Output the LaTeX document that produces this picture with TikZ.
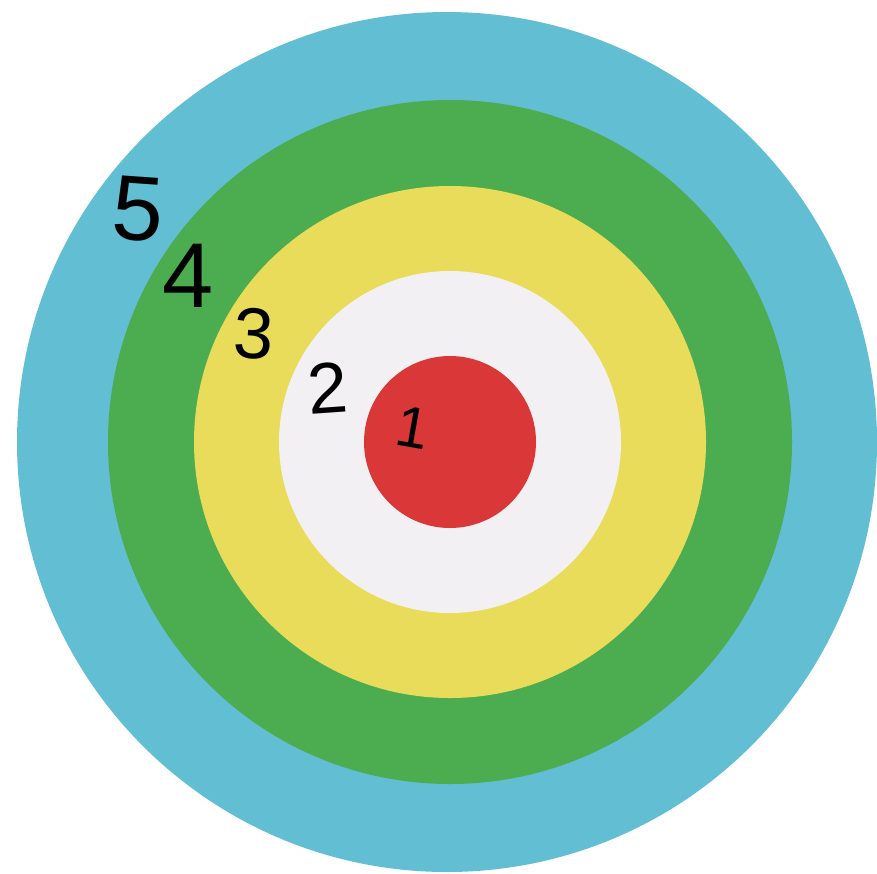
\documentclass[tikz,border=0pt]{standalone}
\usepackage{fontspec}
\setsansfont{Liberation Sans}
\definecolor{ringblue}{RGB}{98,190,210}
\definecolor{ringgreen}{RGB}{76,172,80}
\definecolor{ringyellow}{RGB}{232,220,90}
\definecolor{ringwhite}{RGB}{242,240,242}
\definecolor{ringred}{RGB}{218,56,56}
\begin{document}
\begin{tikzpicture}[x=1pt,y=-1pt,line width=0.55pt,
    digit/.style={anchor=center,inner sep=0pt,text=black,font=\sffamily}]
  \path[use as bounding box] (0,0) rectangle (877,873);

  % rings, outside in
  \coordinate (centre) at (450,442);
  \fill[ringblue] (447,442) circle (430);
  \fill[ringgreen] (centre) circle (342);
  \fill[ringyellow] (centre) circle (256);
  \fill[ringwhite] (centre) circle (171);
  \fill[ringred] (centre) circle (86);

  \node[digit,font=\sffamily\fontsize{92}{92}\selectfont,rotate=-4] (five) at (138,209) {5};
  \node[digit,font=\sffamily\fontsize{92}{92}\selectfont] (four) at (188,276) {4};
  \node[digit,font=\sffamily\fontsize{72}{72}\selectfont,rotate=-3] (three) at (254,334) {3};
  \node[digit,font=\sffamily\fontsize{72}{72}\selectfont,rotate=4] (two) at (328,388) {2};
  \node[digit,font=\sffamily\fontsize{58}{58}\selectfont,rotate=-10] (one) at (413,428) {1};
\end{tikzpicture}
\end{document}
